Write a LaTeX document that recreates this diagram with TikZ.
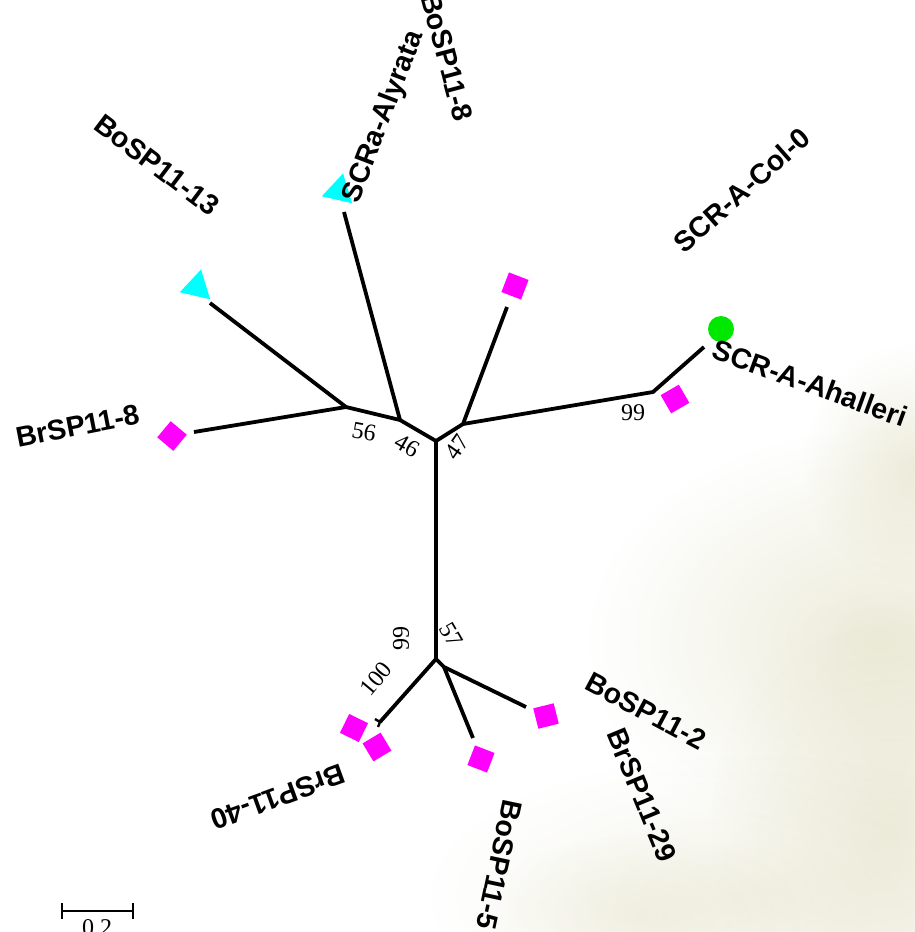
\documentclass[tikz,border=0pt]{standalone}
\usepackage{fontspec}
\setmainfont{Liberation Sans}
\newfontfamily\numfont{Liberation Serif}
\usetikzlibrary{fadings,shapes.geometric}
\tikzfading[name=fuzz, inner color=transparent!0, outer color=transparent!100]
\definecolor{markmag}{RGB}{255,0,255}
\definecolor{markcyan}{RGB}{0,255,255}
\definecolor{markgreen}{RGB}{0,232,0}
\definecolor{blobcol}{RGB}{222,220,188}
\begin{document}
\begin{tikzpicture}[x=1pt,y=-1pt,
  branch/.style={line width=3.8pt, line join=round},
  leaflab/.style={font=\fontsize{28.5}{30}\selectfont\bfseries, inner sep=0pt},
  boot/.style={font=\numfont\fontsize{24}{26}\selectfont, inner sep=0pt},
  sq/.style={rectangle, fill=markmag, minimum size=21pt, inner sep=0pt},
  tri/.style={regular polygon, regular polygon sides=3, fill=markcyan, minimum size=36pt, inner sep=0pt},
  patch/.style={blobcol, path fading=fuzz},
]
% page and soft background patches
\fill[white] (0,0) rectangle (914,932);
\useasboundingbox (0,0) rectangle (914,932);
\fill[patch, opacity=0.55] (880,640) ellipse [x radius=290, y radius=210];
\fill[patch, opacity=0.5] (914,465) ellipse [x radius=110, y radius=120];
\fill[patch, opacity=0.45] (890,830) ellipse [x radius=180, y radius=240];
\fill[patch, opacity=0.35] (750,895) ellipse [x radius=320, y radius=140];
\fill[patch, opacity=0.3] (640,915) ellipse [x radius=160, y radius=80];

% internal nodes
\coordinate (top) at (436,441);
\coordinate (bot) at (436,659);
\coordinate (n46) at (400,420);
\coordinate (n56) at (346,407);
\coordinate (n47) at (463,424);
\coordinate (n99) at (653,392);
\coordinate (n57) at (444,667);
\coordinate (n100) at (380,722);
% branch tips
\coordinate (tAly) at (344,212);
\coordinate (t13) at (210,303);
\coordinate (tBr8) at (194,432);
\coordinate (tUp) at (507,307);
\coordinate (tAha) at (704,347);
\coordinate (tBo5) at (473,738);
\coordinate (tBo2) at (526,707);
\coordinate (tF1) at (375,719);
\coordinate (tF2) at (378,727);

% branches
\draw[branch] (top) -- (bot);
\draw[branch] (top) -- (n46) -- (n56) -- (tBr8);
\draw[branch] (n56) -- (t13);
\draw[branch] (n46) -- (tAly);
\draw[branch] (top) -- (n47) -- (tUp);
\draw[branch] (n47) -- (n99) -- (tAha);
\draw[branch] (bot) -- (n100);
\draw[line width=2.4pt] (n100) -- (tF1);
\draw[line width=2.4pt] (n100) -- (tF2);
\draw[branch] (bot) -- (n57) -- (tBo2);
\draw[branch] (n57) -- (tBo5);

% leaf markers
\node[tri, rotate=-13] (mAly) at (339,191) {};
\node[tri, rotate=-13] (m13) at (197,287) {};
\node[sq, rotate=50] (mBr8) at (172,436) {};
\node[sq, rotate=-21] (mUp) at (515,286) {};
\node[sq, rotate=30] (mCol) at (675,399) {};
\node[circle, fill=markgreen, minimum size=26pt, inner sep=0pt] (mAha) at (721,329) {};
\node[sq, rotate=-26] (mBr40a) at (354,728) {};
\node[sq, rotate=31] (mBr40b) at (377,747) {};
\node[sq, rotate=-21] (mBo5) at (481,759) {};
\node[sq, rotate=14] (mBo2) at (546,716) {};

% leaf labels
\node[leaflab, rotate=-75] (lBo8) at (447,57) {BoSP11-8};
\node[leaflab, rotate=69] (lAly) at (384,117) {SCRa-Alyrata};
\node[leaflab, rotate=-37] (l13) at (157,165) {BoSP11-13};
\node[leaflab, rotate=41.5] (lCol) at (742,190) {SCR-A-Col-0};
\node[leaflab, rotate=-20] (lAha) at (810,383) {SCR-A-Ahalleri};
\node[leaflab, rotate=11] (lBr8) at (78,426) {BrSP11-8};
\node[leaflab, rotate=200] (lBr40) at (278,797) {BrSP11-40};
\node[leaflab, rotate=-102] (lBo5) at (499,865) {BoSP11-5};
\node[leaflab, rotate=-28] (lBo2) at (646,711) {BoSP11-2};
\node[leaflab, rotate=-67.6] (lBr29) at (642,795) {BrSP11-29};

% bootstrap values
\node[boot, rotate=-10] (b56) at (364,432) {56};
\node[boot, rotate=-30] (b46) at (407,446) {46};
\node[boot, rotate=55] (b47) at (457,447) {47};
\node[boot, rotate=0] (b99r) at (633,413) {99};
\node[boot, rotate=-60] (b57) at (451,635) {57};
\node[boot, rotate=90] (b99l) at (401,638) {99};
\node[boot, rotate=50] (b100) at (376,679) {100};

% scale bar
\coordinate (sL) at (62,911);
\coordinate (sR) at (133,911);
\draw[line width=2.8pt] (sL) -- (sR);
\draw[line width=2.8pt] (62,903) -- (62,919);
\draw[line width=2.8pt] (133,903) -- (133,919);
\node[boot, anchor=north] (sLab) at (97,919) {0.2};
\end{tikzpicture}
\end{document}
